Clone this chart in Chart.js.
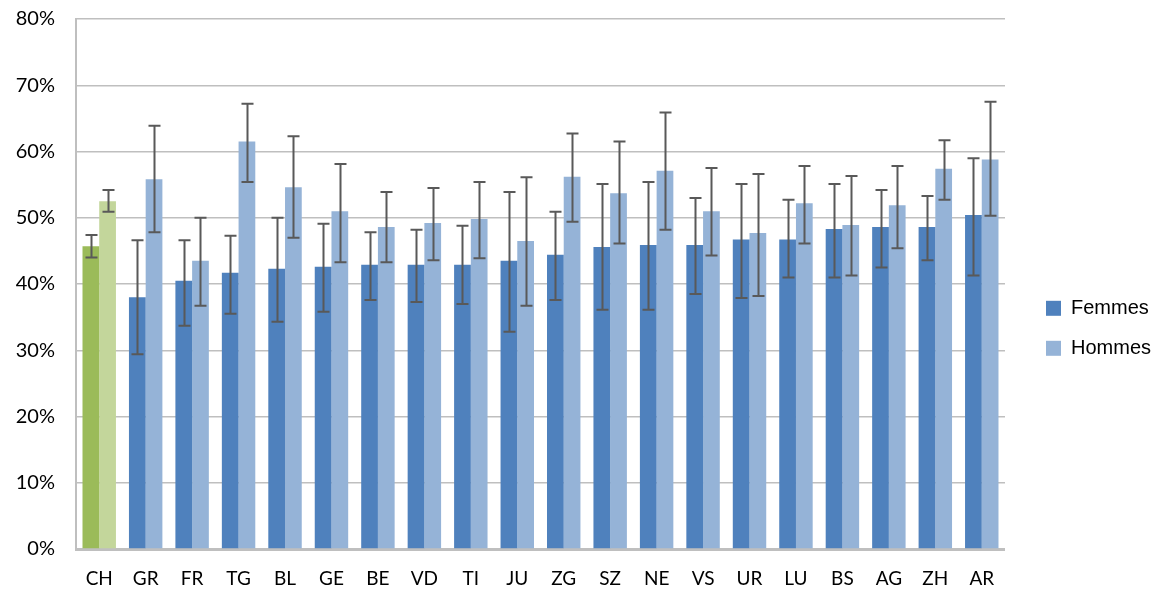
<!DOCTYPE html>
<html>
<head>
<meta charset="utf-8">
<script src="https://cdn.jsdelivr.net/npm/chart.js@4.4.1/dist/chart.umd.min.js"></script>
<style>
  html, body { margin: 0; padding: 0; background: #fff; }
  #wrap { width: 1154px; height: 595px; position: relative; }
</style>
</head>
<body>
<div id="wrap"><canvas id="chart"></canvas></div>
<script>
const cantons = ["CH", "GR", "FR", "TG", "BL", "GE", "BE", "VD", "TI", "JU", "ZG", "SZ", "NE", "VS", "UR", "LU", "BS", "AG", "ZH", "AR"];

const femmes     = [45.7, 38.0, 40.5, 41.7, 42.3, 42.6, 42.9, 42.9, 42.9, 43.5, 44.4, 45.6, 45.9, 45.9, 46.7, 46.7, 48.3, 48.6, 48.6, 50.4];
const femmesLow  = [44.0, 29.4, 33.7, 35.5, 34.3, 35.8, 37.6, 37.3, 37.0, 32.8, 37.6, 36.1, 36.1, 38.5, 37.9, 41.0, 41.0, 42.5, 43.6, 41.3];
const femmesHigh = [47.4, 46.6, 46.6, 47.3, 50.0, 49.1, 47.8, 48.2, 48.8, 53.9, 50.9, 55.1, 55.4, 53.0, 55.1, 52.7, 55.1, 54.2, 53.3, 59.0];

const hommes     = [52.5, 55.8, 43.5, 61.5, 54.6, 51.0, 48.6, 49.2, 49.8, 46.5, 56.2, 53.7, 57.1, 51.0, 47.7, 52.2, 48.9, 51.9, 57.4, 58.8];
const hommesLow  = [50.9, 47.8, 36.7, 55.4, 47.0, 43.3, 43.3, 43.6, 43.9, 36.7, 49.4, 46.1, 48.2, 44.3, 38.2, 46.1, 41.3, 45.4, 52.7, 50.3];
const hommesHigh = [54.2, 63.9, 50.0, 67.2, 62.3, 58.1, 53.9, 54.5, 55.4, 56.1, 62.7, 61.5, 65.9, 57.5, 56.6, 57.8, 56.3, 57.8, 61.7, 67.5];

const yTicks = [0, 10, 20, 30, 40, 50, 60, 70, 80];

const blueDark = "#4F81BD";
const blueLight = "#95B3D7";
const greenDark = "#9BBB59";
const greenLight = "#C3D69B";

// la Suisse (premier groupe) en vert
const colFemmes = cantons.map((c, i) => i === 0 ? greenDark : blueDark);
const colHommes = cantons.map((c, i) => i === 0 ? greenLight : blueLight);

const errorBars = {
  id: "errorBars",
  afterDatasetsDraw(chart) {
    const ctx = chart.ctx;
    const y = chart.scales.y;
    const ranges = [[femmesLow, femmesHigh], [hommesLow, hommesHigh]];
    ctx.save();
    ctx.strokeStyle = "#595959";
    ctx.lineWidth = 2;
    ranges.forEach((r, d) => {
      const meta = chart.getDatasetMeta(d);
      meta.data.forEach((bar, i) => {
        const x = Math.round(bar.x) + 0.5;
        const yLo = y.getPixelForValue(r[0][i]);
        const yHi = y.getPixelForValue(r[1][i]);
        ctx.beginPath();
        ctx.moveTo(x, yLo); ctx.lineTo(x, yHi);
        ctx.moveTo(x - 6, yLo); ctx.lineTo(x + 6, yLo);
        ctx.moveTo(x - 6, yHi); ctx.lineTo(x + 6, yHi);
        ctx.stroke();
      });
    });
    ctx.restore();
  }
};

// décale la légende un peu vers la droite (zone de clip comprise)
const legendShift = {
  id: "legendShift",
  afterLayout(chart) {
    chart.legend.left += 21;
    chart.legend.right += 21;
  }
};

new Chart(document.getElementById("chart"), {
  type: "bar",
  data: {
    labels: cantons,
    datasets: [
      { label: "Femmes", data: femmes, backgroundColor: colFemmes, categoryPercentage: 0.72, barPercentage: 1 },
      { label: "Hommes", data: hommes, backgroundColor: colHommes, categoryPercentage: 0.72, barPercentage: 1 }
    ]
  },
  options: {
    responsive: true,
    maintainAspectRatio: false,
    animation: false,
    layout: { padding: { top: 0, right: 14, left: 0, bottom: 0 } },
    plugins: {
      tooltip: { enabled: false },
      legend: {
        position: "right",
        title: { display: true, text: " ", padding: 20, font: { size: 18 } },
        labels: {
          font: { family: "'Liberation Sans', Arial, sans-serif", size: 20 },
          color: "#000",
          boxWidth: 15,
          boxHeight: 15,
          padding: 20,
          generateLabels: () => [
            { text: "Femmes", fillStyle: blueDark, strokeStyle: blueDark, fontColor: "#000", lineWidth: 0, datasetIndex: 0 },
            { text: "Hommes", fillStyle: blueLight, strokeStyle: blueLight, fontColor: "#000", lineWidth: 0, datasetIndex: 1 }
          ]
        }
      }
    },
    scales: {
      x: {
        grid: { display: false, drawTicks: false },
        border: { color: "#BFBFBF", width: 3 },
        ticks: { color: "#000", font: { family: "Lato, 'Open Sans', sans-serif", size: 19 }, padding: 18, maxRotation: 0, autoSkip: false },
        afterFit: (s) => { s.height = 46; }
      },
      y: {
        min: 0,
        max: 80,
        afterBuildTicks: (s) => { s.ticks = yTicks.map(v => ({ value: v })); },
        grid: { color: "#BFBFBF", lineWidth: 1.5, drawTicks: false },
        border: { color: "#BFBFBF", width: 2 },
        ticks: {
          color: "#000",
          font: { family: "Lato, 'Open Sans', sans-serif", size: 20 },
          padding: 21,
          callback: (v) => v + "%"
        },
        afterFit: (s) => { s.width = 76; s.paddingTop = 19; s.paddingBottom = 10; }
      }
    }
  },
  plugins: [errorBars, legendShift]
});
</script>
</body>
</html>
